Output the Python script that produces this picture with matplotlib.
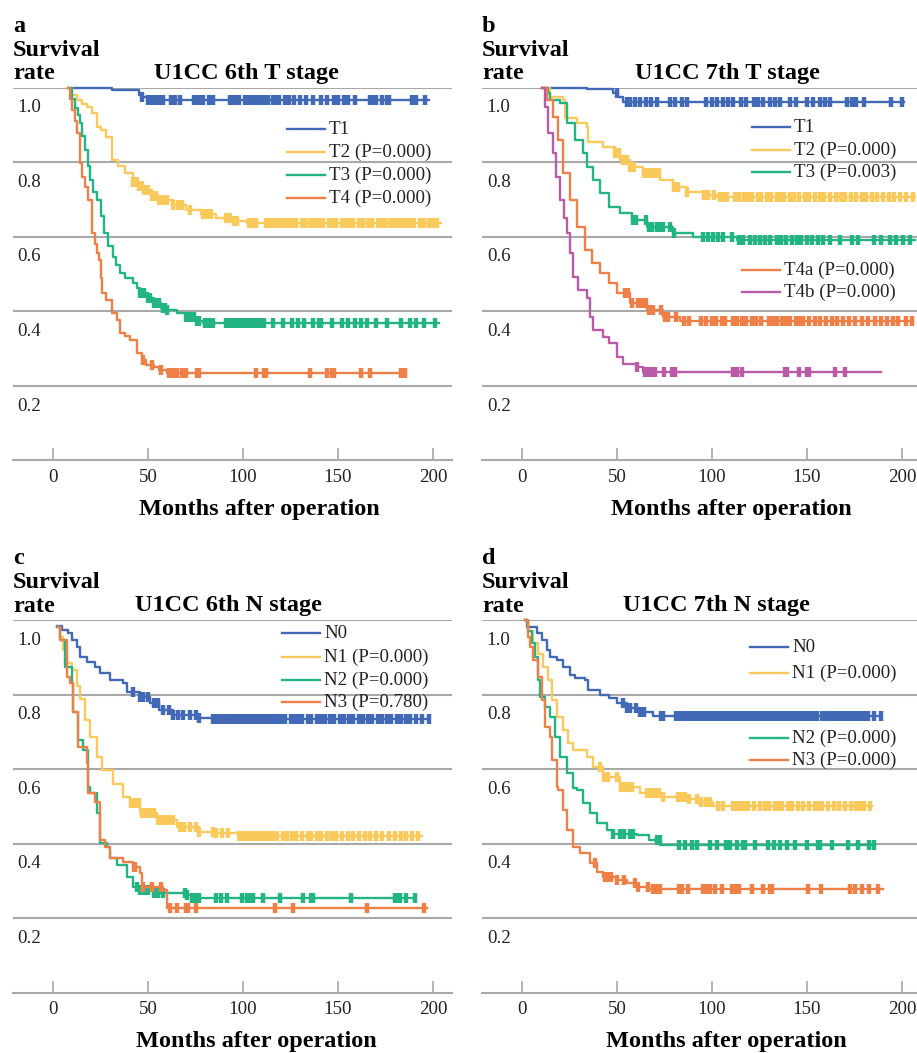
import numpy as np
import matplotlib
matplotlib.use('Agg')
import matplotlib.pyplot as plt
from matplotlib.lines import Line2D

plt.rcParams['font.family'] = ['Liberation Serif', 'DejaVu Serif']

W, H = 917, 1053

BLUE = '#4169B5'
YELLOW = '#F9C95C'
GREEN = '#23B484'
ORANGE = '#EE8047'
MAGENTA = '#B95BA6'
GRID = '#A8A8A8'

# ---- panel a : UICC 6th T stage ----
a_T1_t = [8, 31, 45, 47, 50, 198]
a_T1_s = [1.0, 0.993, 0.98, 0.975, 0.967, 0.967]
a_T1_c = [47, 50, 52, 54, 56, 58, 62, 64, 67, 74, 76, 77, 79, 82, 84, 93, 95, 97, 98, 101,
          103, 105, 106, 108, 110, 112, 113, 116, 118, 119, 122, 124, 127, 130, 133, 137,
          141, 144, 148, 150, 153, 155, 159, 167, 169, 170, 173, 176, 177, 189, 191, 196]

a_T2_t = [8, 10, 12.6, 15, 18, 20.5, 23, 25, 28, 31, 34, 38, 42, 45, 47.6, 52, 56, 63, 70,
          78, 86, 95, 102, 204]
a_T2_s = [1.0, 0.98, 0.967, 0.955, 0.948, 0.931, 0.894, 0.885, 0.867, 0.806, 0.79, 0.77,
          0.747, 0.735, 0.725, 0.71, 0.698, 0.685, 0.672, 0.66, 0.65, 0.643, 0.637, 0.637]
a_T2_c = [42, 44, 45, 47, 48, 50, 52, 54, 56, 58, 60, 63, 66, 68, 72, 79, 81, 83, 91, 93, 95,
          97, 103, 105, 107, 112, 113, 115, 116, 118, 119, 121, 123, 125, 127, 128, 131, 133,
          136, 138, 140, 142, 145, 147, 149, 152, 154, 156, 158, 161, 163, 166, 168, 171, 173,
          175, 178, 180, 182, 184, 186, 188, 190, 193, 195, 198, 200, 202]

a_T3_t = [9, 10, 11.6, 13, 14, 15.5, 17, 18.5, 19.5, 21, 23, 25, 27, 29, 31.6, 33, 35, 38,
          42, 44, 46, 50, 53, 57, 60, 65, 70, 75, 79, 203]
a_T3_s = [1.0, 0.97, 0.945, 0.925, 0.905, 0.87, 0.832, 0.79, 0.752, 0.72, 0.698, 0.655, 0.61,
          0.575, 0.546, 0.525, 0.503, 0.49, 0.476, 0.462, 0.449, 0.435, 0.422, 0.41, 0.403,
          0.395, 0.385, 0.375, 0.369, 0.369]
a_T3_c = [46, 47, 48, 50, 51, 53, 55, 56, 58, 59, 60, 70, 72, 74, 76, 77, 80, 82, 84, 91, 92,
          94, 96, 98, 100, 102, 104, 106, 108, 110, 111, 116, 121, 126, 129, 132, 137, 140,
          141, 147, 152, 155, 159, 162, 165, 170, 176, 183, 188, 191, 195, 201]

a_T4_t = [8, 9, 10, 11.5, 12.6, 14, 15.5, 17, 18.6, 20.5, 22, 23, 24, 25, 26, 28, 31, 33.6,
          35, 38, 40.5, 44, 47, 49, 53, 56, 60, 186]
a_T4_s = [1.0, 0.97, 0.94, 0.91, 0.878, 0.798, 0.76, 0.733, 0.698, 0.61, 0.58, 0.555, 0.537,
          0.49, 0.449, 0.43, 0.395, 0.377, 0.342, 0.335, 0.323, 0.288, 0.27, 0.256, 0.25,
          0.243, 0.235, 0.235]
a_T4_c = [47.5, 52, 57, 61, 63, 65, 68, 70, 76, 77, 107, 111, 112, 135, 144, 147, 148, 162,
          167, 183, 185]

# ---- panel b : UICC 7th T stage ----
b_T1_t = [10.5, 34, 48, 50.5, 53, 201]
b_T1_s = [1.0, 0.996, 0.985, 0.975, 0.962, 0.962]
b_T1_c = [50, 55, 57, 59.5, 62, 65, 68, 71, 78, 80.5, 84, 87, 97, 100, 102.5, 106, 108.5,
          111, 115, 118, 122, 124, 127, 130.5, 133, 136, 141, 144, 150, 153, 157, 159.5,
          162, 171, 173.5, 176, 180, 194, 200]

b_T2_t = [12, 14.7, 21.6, 22.6, 29, 34, 34.7, 42.6, 49, 51.6, 56.8, 63.7, 72.6, 79.4, 86.8,
          95, 102.6, 207]
b_T2_s = [1.0, 0.975, 0.967, 0.918, 0.905, 0.894, 0.854, 0.841, 0.824, 0.806, 0.787, 0.771,
          0.752, 0.733, 0.72, 0.712, 0.706, 0.706]
b_T2_c = [49, 51, 53, 55, 57, 59, 64, 66, 68, 70, 72, 80, 82, 87, 96, 98, 101, 104, 106, 108,
          112, 114, 117, 119, 121, 124, 126, 129, 131, 134, 136, 138, 141, 143, 146, 149, 151,
          154, 157, 159, 162, 165, 168, 170, 173, 176, 179, 181, 184, 187, 190, 193, 196, 199,
          202, 206]

b_T3_t = [12, 13.5, 14.7, 20, 23.7, 28, 32, 34, 37.4, 41, 46, 51.6, 58, 65.7, 79.4, 90, 113,
          207]
b_T3_s = [1.0, 0.985, 0.967, 0.959, 0.905, 0.86, 0.824, 0.787, 0.752, 0.717, 0.68, 0.663,
          0.645, 0.626, 0.61, 0.6, 0.591, 0.591]
b_T3_c = [58.5, 60, 65.5, 67, 68.5, 71, 72.5, 74, 78, 80, 95.5, 98, 100.5, 103, 106, 110.5,
          114, 116.5, 120, 122.5, 125, 128, 130.5, 134, 136.5, 139, 142, 144.5, 147, 150, 152.5,
          156, 158.5, 162, 167.5, 173.5, 177, 185, 189, 193.5, 197, 200.5, 204]

b_T4a_t = [10.5, 13, 16.3, 19, 21.6, 25, 29, 33, 36.8, 41, 46, 50, 56.8, 65.7, 74, 83, 205]
b_T4a_s = [1.0, 0.967, 0.921, 0.86, 0.771, 0.698, 0.626, 0.564, 0.529, 0.502, 0.476, 0.449,
           0.422, 0.403, 0.385, 0.374, 0.374]
b_T4a_c = [54, 56, 58, 61, 63, 65, 67, 69, 73, 75, 77, 81, 85, 88, 94, 97, 100, 102, 105, 107,
           111, 113, 116, 118, 121, 123, 126, 130, 132, 134, 137, 139, 141, 144, 146, 148, 151,
           154, 157, 160, 163, 166, 169, 172, 175, 179, 182, 186, 189, 192, 195, 198, 202, 205]

b_T4b_t = [10.5, 12, 13.7, 16.3, 18, 20, 22, 23.7, 25, 26.8, 29.4, 34, 35.8, 37.4, 42.6, 46,
           50, 53, 60.5, 63.7, 189]
b_T4b_s = [1.0, 0.948, 0.878, 0.824, 0.76, 0.698, 0.65, 0.61, 0.556, 0.492, 0.457, 0.436,
           0.385, 0.35, 0.331, 0.315, 0.278, 0.26, 0.251, 0.237, 0.237]
b_T4b_c = [60.5, 64.5, 66.5, 68, 70, 74.5, 79, 80.5, 111, 113, 116, 138.5, 139.5, 146, 150,
           151, 164.5, 170]

# ---- panel c : UICC 6th N stage ----
c_N0_t = [2, 4.7, 8, 10, 12.6, 14, 17.9, 22, 24.7, 30, 37, 39, 45.8, 51, 56, 63, 77, 84, 198]
c_N0_s = [0.984, 0.973, 0.965, 0.946, 0.928, 0.9, 0.887, 0.874, 0.857, 0.839, 0.83, 0.807,
          0.794, 0.777, 0.759, 0.745, 0.737, 0.735, 0.735]
c_N0_c = [42, 46, 47.5, 50, 53, 55.5, 58, 61, 63, 66, 68.5, 72, 75.5, 77, 84, 86, 88, 90, 92,
          94, 96, 98, 100, 102, 104, 106, 108, 110, 112, 114, 116, 118, 120, 122, 125, 127,
          129, 131, 134, 136, 139, 141, 143, 146, 148, 151, 153, 156, 158, 161, 163, 166,
          168, 171, 173, 176, 178, 181, 183, 186, 188, 191, 194, 198]

c_N1_t = [2, 3.7, 5.3, 7.4, 10, 12.6, 14, 17, 19.5, 23, 26, 31.6, 37, 40.5, 45.8, 54.7, 65, 77,
          86, 98, 194]
c_N1_s = [0.98, 0.954, 0.92, 0.885, 0.866, 0.823, 0.788, 0.732, 0.687, 0.633, 0.598, 0.56,
          0.525, 0.509, 0.482, 0.464, 0.445, 0.432, 0.429, 0.421, 0.421]
c_N1_c = [41, 43, 45, 47, 49, 51, 53, 55, 57, 59, 61, 63, 67, 69, 72, 75, 77, 84, 86, 89, 92,
          98, 100, 102, 104, 106, 108, 110, 112, 114, 116, 118, 121, 123, 126, 128, 131, 134,
          136, 139, 141, 144, 147, 149, 152, 155, 158, 161, 164, 167, 170, 173, 177, 180, 183,
          186, 189, 192]

c_N2_t = [2, 3.7, 6.3, 10, 10.5, 13, 15.8, 18.4, 19.5, 23, 24.7, 28.4, 30, 33.7, 39, 42,
          45.8, 52.6, 70.5, 73, 190]
c_N2_s = [0.98, 0.946, 0.874, 0.831, 0.753, 0.678, 0.651, 0.552, 0.536, 0.482, 0.402, 0.391,
          0.362, 0.343, 0.311, 0.284, 0.276, 0.268, 0.263, 0.255, 0.255]
c_N2_c = [44, 46, 47.5, 49, 50, 53, 55.5, 58, 69.5, 70.5, 73, 75.5, 77, 86, 88.5, 91.5, 99.5,
          102, 103.5, 105.5, 110.5, 119.5, 131.5, 136, 137, 157, 180, 181.5, 182.5, 186, 190.5]

c_N3_t = [2.5, 3.7, 7.4, 9, 10.5, 13, 17.9, 18.4, 22, 24.7, 27.4, 30, 37, 42, 45.8, 46.8, 58,
          60, 197]
c_N3_s = [0.98, 0.946, 0.847, 0.831, 0.753, 0.66, 0.617, 0.536, 0.512, 0.41, 0.391, 0.362,
          0.351, 0.338, 0.322, 0.284, 0.276, 0.228, 0.228]
c_N3_c = [42.5, 43, 47.5, 52, 57, 61.5, 65, 70, 71, 75.5, 117, 126.5, 165, 195.5]

# ---- panel d : UICC 7th N stage ----
d_N0_t = [1.6, 2.6, 7.9, 10.5, 13, 14.7, 18.4, 21.6, 25, 28, 33, 34.7, 41, 46, 50, 55, 62, 69,
          189]
d_N0_s = [1.0, 0.98, 0.965, 0.946, 0.92, 0.9, 0.893, 0.874, 0.853, 0.844, 0.839, 0.812, 0.799,
          0.791, 0.777, 0.764, 0.753, 0.743, 0.743]
d_N0_c = [53, 55, 57, 60, 62, 64, 73, 74, 81, 83, 85, 87, 89, 91, 93, 95, 97, 99, 101, 103, 105,
          107, 109, 111, 113, 115, 117, 119, 121, 123, 125, 127, 129, 131, 133, 135, 137, 139,
          141, 143, 145, 147, 149, 151, 153, 155, 158, 160, 162, 164, 166, 168, 170, 172, 174,
          176, 178, 180, 182, 185, 189]

d_N1_t = [1.6, 3, 5.8, 8.4, 11, 13.7, 15.8, 18.4, 21.6, 24, 26.8, 34, 37.4, 42.6, 51.6, 62,
          72.6, 88, 93.6, 100.5, 184]
d_N1_s = [1.0, 0.97, 0.938, 0.91, 0.874, 0.839, 0.786, 0.74, 0.705, 0.67, 0.651, 0.633, 0.606,
          0.579, 0.552, 0.536, 0.525, 0.52, 0.512, 0.501, 0.501]
d_N1_c = [41, 43, 45, 50, 52, 54, 56, 58, 66, 68, 70, 72, 74, 82, 84, 86, 88, 92, 94, 97, 99,
          103, 106, 111, 113, 115, 117, 119, 122, 125, 128, 130, 133, 135, 137, 140, 142, 145,
          148, 151, 154, 156, 158, 161, 164, 167, 170, 173, 176, 178, 180, 183]

d_N2_t = [1.6, 3, 5.3, 6.8, 8.4, 9.5, 12, 14.7, 17.4, 20, 23.7, 26.8, 29, 32, 35.8, 39.5,
          44.7, 48, 60.5, 67, 72.6, 186]
d_N2_s = [1.0, 0.97, 0.938, 0.9, 0.839, 0.794, 0.767, 0.74, 0.687, 0.633, 0.59, 0.55, 0.544,
          0.509, 0.482, 0.455, 0.437, 0.426, 0.424, 0.41, 0.397, 0.397]
d_N2_c = [48, 51.5, 53.5, 57, 58.5, 71, 72, 72.5, 82.5, 86, 89.5, 92, 99, 102.5, 107.5, 109.5,
          113, 116.5, 117.5, 122.5, 129.5, 132.5, 136, 139.5, 143.5, 150, 156, 157, 163, 171.5,
          177, 182.5, 185]

d_N3_t = [1.6, 3, 4.2, 5.8, 8.4, 10.5, 12, 14.7, 15.8, 18.4, 19, 21.6, 23.7, 26.8, 30.5, 35.8,
          39.5, 42.6, 50, 55, 60.5, 67, 190]
d_N3_s = [1.0, 0.954, 0.928, 0.893, 0.847, 0.786, 0.713, 0.686, 0.625, 0.552, 0.544, 0.49,
          0.437, 0.391, 0.375, 0.348, 0.324, 0.311, 0.303, 0.295, 0.284, 0.279, 0.279]
d_N3_c = [38.5, 43.5, 44.5, 47, 50, 53.5, 59.5, 61, 66.5, 69, 71, 72.5, 82.5, 84, 87.5, 95.5,
          97, 99, 101.5, 105, 110.5, 112, 114, 121, 127, 130.5, 131.5, 150.5, 157.5, 172.5,
          175, 179, 182.5, 187.5]


def fx(x):
    return x / W


def fy(y):
    return 1 - y / H


def surv_at(t, s, times):
    """Step (post) lookup of the survival value for each censor time."""
    idx = np.searchsorted(np.array(t), np.array(times), side='right') - 1
    idx = np.clip(idx, 0, len(s) - 1)
    return np.array(s)[idx]


def draw_panel(fig, box, letter, title, title_x, xlabel_x, curves, legend):
    left, right, top, bottom = box
    ax = fig.add_axes([fx(left), fy(bottom), fx(right - left), (bottom - top) / H])

    # 1.9 px per month, x=0 sits 40 px right of the axes edge
    x0 = -40 / 1.9
    ax.set_xlim(x0, x0 + (right - left) / 1.9)
    ax.set_ylim(0, 1.0)

    for sp in ['top', 'left', 'right']:
        ax.spines[sp].set_visible(False)
    ax.spines['bottom'].set_color(GRID)
    ax.spines['bottom'].set_linewidth(1.5)

    ax.set_yticks([0.2, 0.4, 0.6, 0.8, 1.0])
    ax.yaxis.grid(True, color=GRID, linewidth=1.5)
    ax.tick_params(axis='y', left=False, labelleft=False)
    ax.set_xticks([0, 50, 100, 150, 200])
    ax.tick_params(axis='x', direction='in', length=8.5, width=1.2, color=GRID, pad=6,
                   labelsize=13.6, labelcolor='#222222')
    ax.set_axisbelow(True)

    # y labels sit a little below their grid lines
    for v in [1.0, 0.8, 0.6, 0.4, 0.2]:
        ax.text(x0 + 2.5, v - 0.054, f'{v:.1f}', fontsize=13.6, color='#222222',
                ha='left', va='center')

    for t, s, cens, color in curves:
        ax.step(t, s, where='post', color=color, lw=1.7, clip_on=False, zorder=3)
        ax.plot(cens, surv_at(t, s, cens), linestyle='none', marker='|', ms=7.5, mew=3.2,
                color=color, clip_on=False, zorder=3)

    # header texts (baselines)
    fig.text(fx(left), fy(top - 56), letter, fontsize=17.5, fontweight='bold',
             ha='left', va='baseline')
    fig.text(fx(left), fy(top - 32), 'Survival', fontsize=17.5, fontweight='bold',
             ha='left', va='baseline')
    fig.text(fx(left), fy(top - 8.5), 'rate', fontsize=17.5, fontweight='bold',
             ha='left', va='baseline')
    fig.text(fx(title_x), fy(top - 8.5), title, fontsize=17.5, fontweight='bold',
             ha='center', va='baseline')
    fig.text(fx(xlabel_x), fy(bottom + 49), 'Months after operation', fontsize=17.5,
             fontweight='bold', ha='center', va='center')

    # legend entries drawn by hand (groups are split in b and d)
    for label, color, lx, ly in legend:
        fig.add_artist(Line2D([fx(lx), fx(lx + 38)], [fy(ly), fy(ly)], color=color, lw=1.7))
        fig.text(fx(lx + 42), fy(ly), label, fontsize=13.6, color='#222222',
                 ha='left', va='center')
    return ax


def main():
    fig = plt.figure(figsize=(W / 100, H / 100), dpi=100)

    draw_panel(fig, (13, 452, 87.5, 460.5), 'a', 'U1CC 6th T stage', 246, 259,
               [(a_T1_t, a_T1_s, a_T1_c, BLUE), (a_T2_t, a_T2_s, a_T2_c, YELLOW),
                (a_T3_t, a_T3_s, a_T3_c, GREEN), (a_T4_t, a_T4_s, a_T4_c, ORANGE)],
               [('T1', BLUE, 287, 129), ('T2 (P=0.000)', YELLOW, 287, 152),
                ('T3 (P=0.000)', GREEN, 287, 175), ('T4 (P=0.000)', ORANGE, 287, 198)])

    draw_panel(fig, (482, 917, 87.5, 460.5), 'b', 'U1CC 7th T stage', 727, 731,
               [(b_T1_t, b_T1_s, b_T1_c, BLUE), (b_T2_t, b_T2_s, b_T2_c, YELLOW),
                (b_T3_t, b_T3_s, b_T3_c, GREEN), (b_T4a_t, b_T4a_s, b_T4a_c, ORANGE),
                (b_T4b_t, b_T4b_s, b_T4b_c, MAGENTA)],
               [('T1', BLUE, 752, 127), ('T2 (P=0.000)', YELLOW, 752, 150),
                ('T3 (P=0.003)', GREEN, 752, 172), ('T4a (P=0.000)', ORANGE, 742, 270),
                ('T4b (P=0.000)', MAGENTA, 742, 292)])

    draw_panel(fig, (13, 452, 620, 993), 'c', 'U1CC 6th N stage', 228, 256,
               [(c_N0_t, c_N0_s, c_N0_c, BLUE), (c_N1_t, c_N1_s, c_N1_c, YELLOW),
                (c_N2_t, c_N2_s, c_N2_c, GREEN), (c_N3_t, c_N3_s, c_N3_c, ORANGE)],
               [('N0', BLUE, 282, 633), ('N1 (P=0.000)', YELLOW, 282, 657),
                ('N2 (P=0.000)', GREEN, 282, 680), ('N3 (P=0.780)', ORANGE, 282, 702)])

    draw_panel(fig, (482, 917, 620, 993), 'd', 'U1CC 7th N stage', 716, 726,
               [(d_N0_t, d_N0_s, d_N0_c, BLUE), (d_N1_t, d_N1_s, d_N1_c, YELLOW),
                (d_N2_t, d_N2_s, d_N2_c, GREEN), (d_N3_t, d_N3_s, d_N3_c, ORANGE)],
               [('N0', BLUE, 750, 647), ('N1 (P=0.000)', YELLOW, 750, 673),
                ('N2 (P=0.000)', GREEN, 750, 738), ('N3 (P=0.000)', ORANGE, 750, 760)])

    fig.savefig('out.png', dpi=100)
    plt.close(fig)


if __name__ == '__main__':
    main()
